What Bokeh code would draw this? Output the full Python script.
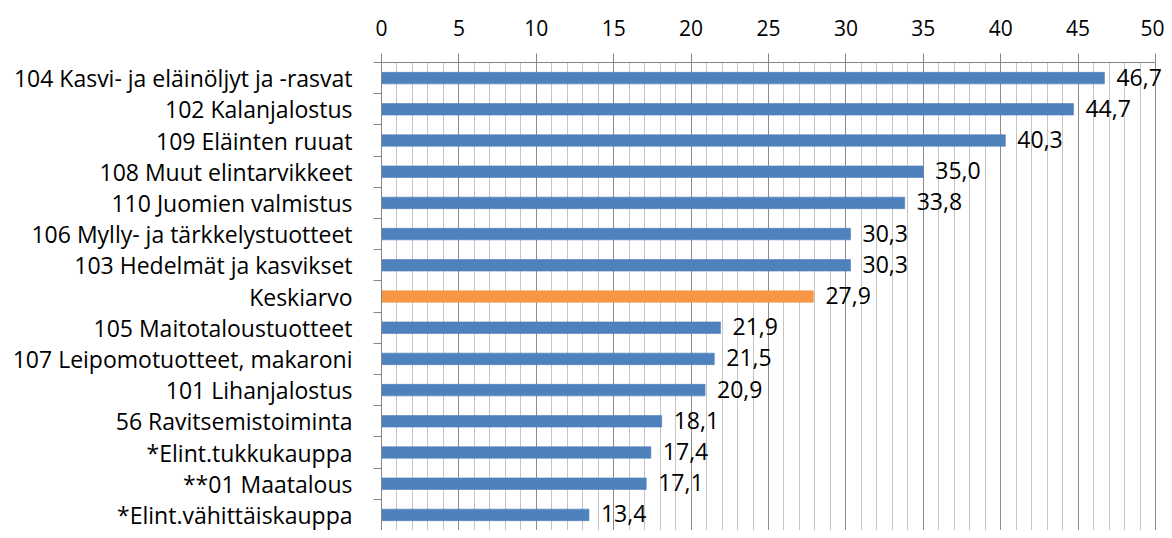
from bokeh.plotting import figure
from bokeh.models import Range1d, FixedTicker, ColumnDataSource, LabelSet
from bokeh.core.properties import value
from bokeh.embed import file_html
from bokeh.resources import INLINE

categories = [
    "104 Kasvi- ja eläinöljyt ja -rasvat",
    "102 Kalanjalostus",
    "109 Eläinten ruuat",
    "108 Muut elintarvikkeet",
    "110 Juomien valmistus",
    "106 Mylly- ja tärkkelystuotteet",
    "103 Hedelmät ja kasvikset",
    "Keskiarvo",
    "105 Maitotaloustuotteet",
    "107 Leipomotuotteet, makaroni",
    "101 Lihanjalostus",
    "56 Ravitsemistoiminta",
    "*Elint.tukkukauppa",
    "**01 Maatalous",
    "*Elint.vähittäiskauppa",
]
values = [46.7, 44.7, 40.3, 35.0, 33.8, 30.3, 30.3, 27.9, 21.9, 21.5, 20.9, 18.1, 17.4, 17.1, 13.4]
highlight = "Keskiarvo"
x_max = 50
x_major = list(range(0, x_max + 1, 5))
x_minor = list(range(0, x_max + 1))

BLUE = "#4F81BD"
ORANGE = "#F79646"
FONT = "Open Sans"
FS = "23px"
FS_X = "21px"

W, H = 1164, 530
LEFT, TOP = 381, 62
AXIS_END_PX = 1155          # canvas px where x_max sits
frame_w = W - LEFT
x_end = x_max * frame_w / (AXIS_END_PX - LEFT)

n = len(categories)
pos = [i + 0.5 for i in range(n)]
colors = [ORANGE if c == highlight else BLUE for c in categories]
labels = [f"{v:.1f}".replace(".", ",") for v in values]

src = ColumnDataSource(dict(y=pos, v=values, color=colors, label=labels))

p = figure(width=W, height=H, x_range=Range1d(0, x_end), y_range=Range1d(n, 0),
           x_axis_location="above", output_backend="svg", toolbar_location=None,
           min_border_left=LEFT, min_border_right=0, min_border_top=TOP, min_border_bottom=0)
p.outline_line_color = None

p.hbar(y="y", right="v", left=0, height=0.37, fill_color="color", line_color="color",
       line_alpha=0.6, source=src)
p.add_layout(LabelSet(x="v", y="y", text="label", source=src, x_offset=12, y_offset=1,
                      text_baseline="middle", text_align="left", text_font=value(FONT),
                      text_font_size=value(FS), text_color="black"))

# x axis (top)
p.xaxis.ticker = FixedTicker(ticks=x_major, minor_ticks=x_minor)
p.xaxis.bounds = (0, x_max)
p.xaxis.major_label_text_font = FONT
p.xaxis.major_label_text_font_size = FS_X
p.xaxis.major_label_text_color = "black"
p.xaxis.axis_line_color = "#868686"
p.xaxis.major_tick_line_color = "#868686"
p.xaxis.major_tick_out = 9
p.xaxis.major_tick_in = 0
p.xaxis.minor_tick_out = 0
p.xaxis.minor_tick_in = 0
p.xaxis.major_label_standoff = 18
p.xgrid.grid_line_color = "#8C8C8C"
p.xgrid.minor_grid_line_color = "#C4C4C4"
p.ygrid.grid_line_color = None

# y axis (left): labels at category centres, ticks at boundaries
p.yaxis.ticker = FixedTicker(ticks=pos, minor_ticks=list(range(n + 1)))
p.yaxis.major_label_overrides = {pp: c for pp, c in zip(pos, categories)}
p.yaxis.major_label_text_font = FONT
p.yaxis.major_label_text_font_size = FS
p.yaxis.major_label_text_color = "black"
p.yaxis.major_tick_out = 0
p.yaxis.major_tick_in = 0
p.yaxis.minor_tick_out = 8
p.yaxis.minor_tick_in = 0
p.yaxis.minor_tick_line_color = "#868686"
p.yaxis.axis_line_color = "#868686"
p.yaxis.major_label_standoff = 21

open("out.html", "w").write(file_html(p, INLINE))
